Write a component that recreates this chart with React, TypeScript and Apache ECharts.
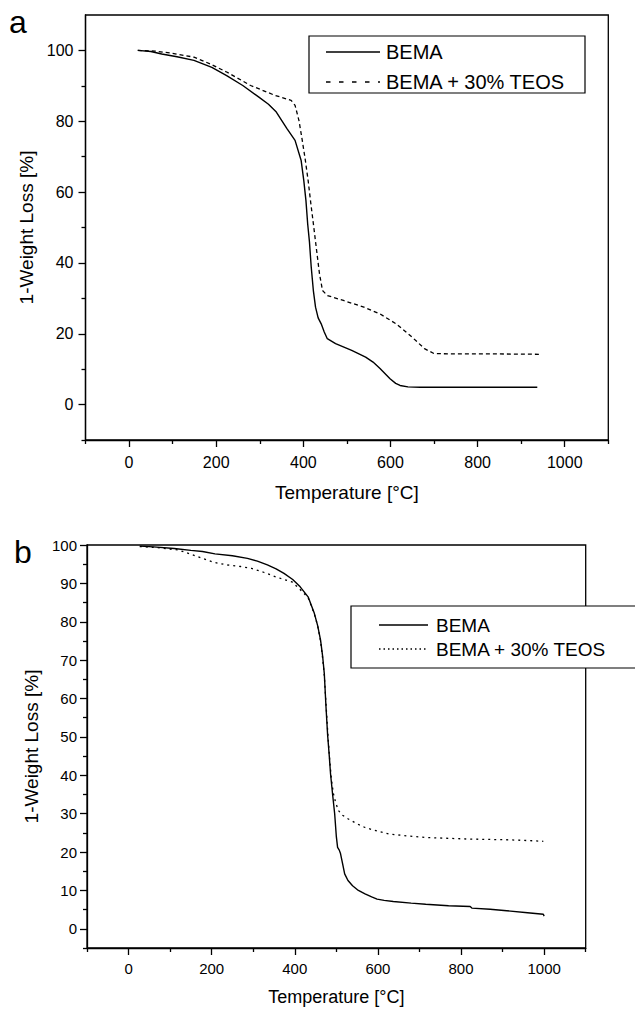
import React, { useEffect, useRef } from "react";
import * as echarts from "echarts";

// ---------- data ----------
const seriesNames = ["BEMA", "BEMA + 30% TEOS"];

// Panel a: [temperature °C, 1-weight loss %]
const aBEMA: number[][] = [
  [20, 100], [50, 99.7], [75, 99.0], [110, 98.2], [149, 97.2], [190, 95.2], [224, 92.9],
  [261, 90.1], [298, 86.8], [320, 84.8], [338, 82.6], [362, 78], [381, 74.6], [395, 68.9],
  [401, 63.3], [406, 57.6], [410, 51], [414, 46], [418, 39], [423, 32.2], [428, 27.5],
  [434, 24.5], [441, 22.8], [448, 20.5], [455, 18.6], [474, 17.2], [511, 15.3], [543, 13.4],
  [560, 12], [576, 10.2], [599, 7.3], [612, 6], [622, 5.4], [640, 5.0], [668, 4.9],
  [750, 4.9], [850, 4.9], [937, 4.9],
];
const aTEOS: number[][] = [
  [20, 100], [60, 99.8], [94, 99.3], [149, 98.1], [186, 96.2], [224, 93.9], [279, 90.1],
  [335, 87.3], [372, 85.9], [381, 84.5], [390, 80.2], [397, 75], [404, 69.5], [411, 63.3],
  [417, 57], [423, 51.1], [430, 44], [437, 37], [444, 32.2], [455, 30.8], [492, 29.4],
  [539, 27.5], [576, 25.6], [613, 22.8], [650, 19], [678, 15.8], [700, 14.4], [750, 14.3],
  [850, 14.3], [942, 14.2],
];

// Panel b
const bBEMA: number[][] = [
  [27, 99.7], [60, 99.5], [110, 99.1], [150, 98.6], [178, 98.3], [208, 97.7], [250, 97.2],
  [286, 96.5], [310, 95.8], [334, 94.8], [355, 93.8], [374, 92.6], [395, 91], [413, 89.1],
  [432, 86.5], [447, 82.2], [455, 79], [462, 75.2], [467, 71], [471, 66.5], [475, 58],
  [479, 50.5], [483, 45], [486, 40.4], [491, 35], [496, 29.9], [500, 24], [503, 21.2],
  [507, 20.5], [510, 19.6], [515, 17], [520, 14.3], [528, 12.6], [539, 11.2], [553, 10],
  [569, 9.1], [585, 8.3], [598, 7.75], [615, 7.4], [637, 7.1], [680, 6.7], [715, 6.4],
  [770, 6.0], [822, 5.8], [826, 5.4], [870, 5.1], [910, 4.7], [960, 4.2], [998, 3.8],
  [1000, 3.3],
];
const bTEOS: number[][] = [
  [27, 99.6], [70, 99.3], [120, 98.7], [150, 97.6], [178, 96.5], [205, 95.5], [237, 94.8],
  [270, 94.4], [296, 93.9], [325, 92.9], [354, 91.7], [375, 91], [393, 90.4], [410, 88.7],
  [432, 86.3], [447, 82], [455, 79], [462, 75], [467, 70.5], [471, 66], [476, 57], [480, 50],
  [484, 44], [488, 39], [493, 35.2], [498, 33], [505, 30.8], [515, 29.6], [529, 28.6],
  [549, 27.4], [569, 26.4], [600, 25.4], [627, 24.7], [670, 24.2], [715, 23.8], [765, 23.6],
  [813, 23.4], [860, 23.3], [910, 23.2], [960, 23], [998, 22.8],
];

// ticks
const xMajor = [0, 200, 400, 600, 800, 1000];
const xMinor = [-100, 100, 300, 500, 700, 900, 1100];
const aYMajor = [0, 20, 40, 60, 80, 100];
const aYMinor = [-10, 10, 30, 50, 70, 90];
const bYMajor = [0, 10, 20, 30, 40, 50, 60, 70, 80, 90, 100];
const bYMinor = [-5, 5, 15, 25, 35, 45, 55, 65, 75, 85, 95];

const FONT = "'Liberation Sans', Arial, Helvetica, sans-serif";
const INK = "#000";
const plain = (v: number) => String(v);

function mainX(grid: number, fontSize: number, margin: number, nameGap: number, nameSize: number) {
  return {
    type: "value",
    gridIndex: grid,
    position: "bottom",
    min: -100,
    max: 1100,
    name: "Temperature [°C]",
    nameLocation: "middle",
    nameGap,
    nameTextStyle: { fontSize: nameSize, fontFamily: FONT, color: INK },
    axisLine: { show: true, onZero: false, lineStyle: { color: INK, width: 1.3 } },
    axisTick: { show: true, customValues: xMajor, length: 7, lineStyle: { color: INK, width: 1.3 } },
    axisLabel: { customValues: xMajor, formatter: plain, fontSize, fontFamily: FONT, color: INK, margin },
    splitLine: { show: false },
  };
}
function minorX(grid: number) {
  return {
    type: "value",
    gridIndex: grid,
    position: "bottom",
    min: -100,
    max: 1100,
    axisLine: { show: false, onZero: false },
    axisTick: { show: true, customValues: xMinor, length: 4, lineStyle: { color: INK, width: 1.3 } },
    axisLabel: { show: false },
    splitLine: { show: false },
  };
}
function mainY(grid: number, min: number, max: number, major: number[], fontSize: number, margin: number, nameGap: number) {
  return {
    type: "value",
    gridIndex: grid,
    position: "left",
    min,
    max,
    name: "1-Weight Loss [%]",
    nameLocation: "middle",
    nameGap,
    nameTextStyle: { fontSize: 19, fontFamily: FONT, color: INK },
    axisLine: { show: true, onZero: false, lineStyle: { color: INK, width: 1.3 } },
    axisTick: { show: true, customValues: major, length: 7, lineStyle: { color: INK, width: 1.3 } },
    axisLabel: { customValues: major, formatter: plain, fontSize, fontFamily: FONT, color: INK, margin },
    splitLine: { show: false },
  };
}
function minorY(grid: number, min: number, max: number, minor: number[]) {
  return {
    type: "value",
    gridIndex: grid,
    position: "left",
    min,
    max,
    axisLine: { show: false, onZero: false },
    axisTick: { show: true, customValues: minor, length: 4, lineStyle: { color: INK, width: 1.3 } },
    axisLabel: { show: false },
    splitLine: { show: false },
  };
}

function legendGraphics(
  box: { x: number; y: number; w: number; h: number },
  lineX0: number,
  lineX1: number,
  textX: number,
  rows: number[],
  dash: number[],
  fontSize: number
) {
  const els: any[] = [
    {
      type: "rect",
      shape: { x: box.x, y: box.y, width: box.w, height: box.h },
      style: { fill: "#fff", stroke: INK, lineWidth: 1.2 },
      z: 10,
    },
  ];
  seriesNames.forEach((name, i) => {
    els.push({
      type: "line",
      shape: { x1: lineX0, y1: rows[i], x2: lineX1, y2: rows[i] },
      style: { stroke: INK, lineWidth: 1.3, lineDash: i === 0 ? null : dash },
      z: 11,
    });
    els.push({
      type: "text",
      x: textX,
      y: rows[i],
      style: {
        text: name,
        fontSize,
        fontFamily: FONT,
        fill: INK,
        align: "left",
        verticalAlign: "middle",
        textAlign: "left",
        textVerticalAlign: "middle",
      },
      z: 11,
    });
  });
  return els;
}

export default function App() {
  const ref = useRef<HTMLDivElement>(null);
  useEffect(() => {
    if (!ref.current) return;
    const chart = echarts.init(ref.current, null, { renderer: "svg" });
    const option: any = {
      animation: false,
      backgroundColor: "#fff",
      grid: [
        {
          left: 85.5, top: 15, right: 635 - 608.3, bottom: 1009 - 440,
          show: true, borderColor: INK, borderWidth: 1.3, backgroundColor: "transparent",
          outerBoundsMode: "none", containLabel: false,
        },
        {
          left: 87, top: 545, right: 635 - 585.7, bottom: 1009 - 948,
          show: true, borderColor: INK, borderWidth: 1.3, backgroundColor: "transparent",
          outerBoundsMode: "none", containLabel: false,
        },
      ],
      xAxis: [mainX(0, 16, 14, 43, 19), minorX(0), mainX(1, 15, 13, 40, 18), minorX(1)],
      yAxis: [
        mainY(0, -10, 110, aYMajor, 16, 12, 44),
        minorY(0, -10, 110, aYMinor),
        mainY(1, -5, 100, bYMajor, 15, 10, 46),
        minorY(1, -5, 100, bYMinor),
      ],
      series: [
        {
          name: seriesNames[0], type: "line", xAxisIndex: 0, yAxisIndex: 0, data: aBEMA,
          symbol: "none", lineStyle: { color: INK, width: 1.4, type: "solid" },
        },
        {
          name: seriesNames[1], type: "line", xAxisIndex: 0, yAxisIndex: 0, data: aTEOS,
          symbol: "none", lineStyle: { color: INK, width: 1.3, type: [4, 3] },
        },
        {
          name: seriesNames[0], type: "line", xAxisIndex: 2, yAxisIndex: 2, data: bBEMA,
          symbol: "none", lineStyle: { color: INK, width: 1.4, type: "solid" },
        },
        {
          name: seriesNames[1], type: "line", xAxisIndex: 2, yAxisIndex: 2, data: bTEOS,
          symbol: "none", lineStyle: { color: INK, width: 1.3, type: [2, 4] },
        },
      ],
      graphic: [
        {
          type: "text", x: 9, y: 22,
          style: { text: "a", fontSize: 32, fontFamily: FONT, fill: INK, verticalAlign: "middle", textVerticalAlign: "middle" },
        },
        {
          type: "text", x: 14, y: 552,
          style: { text: "b", fontSize: 32, fontFamily: FONT, fill: INK, verticalAlign: "middle", textVerticalAlign: "middle" },
        },
        ...legendGraphics({ x: 309, y: 36, w: 276, h: 57 }, 326, 380, 386, [52, 82], [4.5, 8.5], 20),
        ...legendGraphics({ x: 351, y: 606, w: 300, h: 62 }, 379, 428, 436, [625, 649], [1.5, 3], 19),
      ],
    };
    chart.setOption(option);
    return () => chart.dispose();
  }, []);
  return (
    <div
      ref={ref}
      style={{ position: "absolute", left: 0, top: 0, width: 635, height: 1009 }}
    />
  );
}
